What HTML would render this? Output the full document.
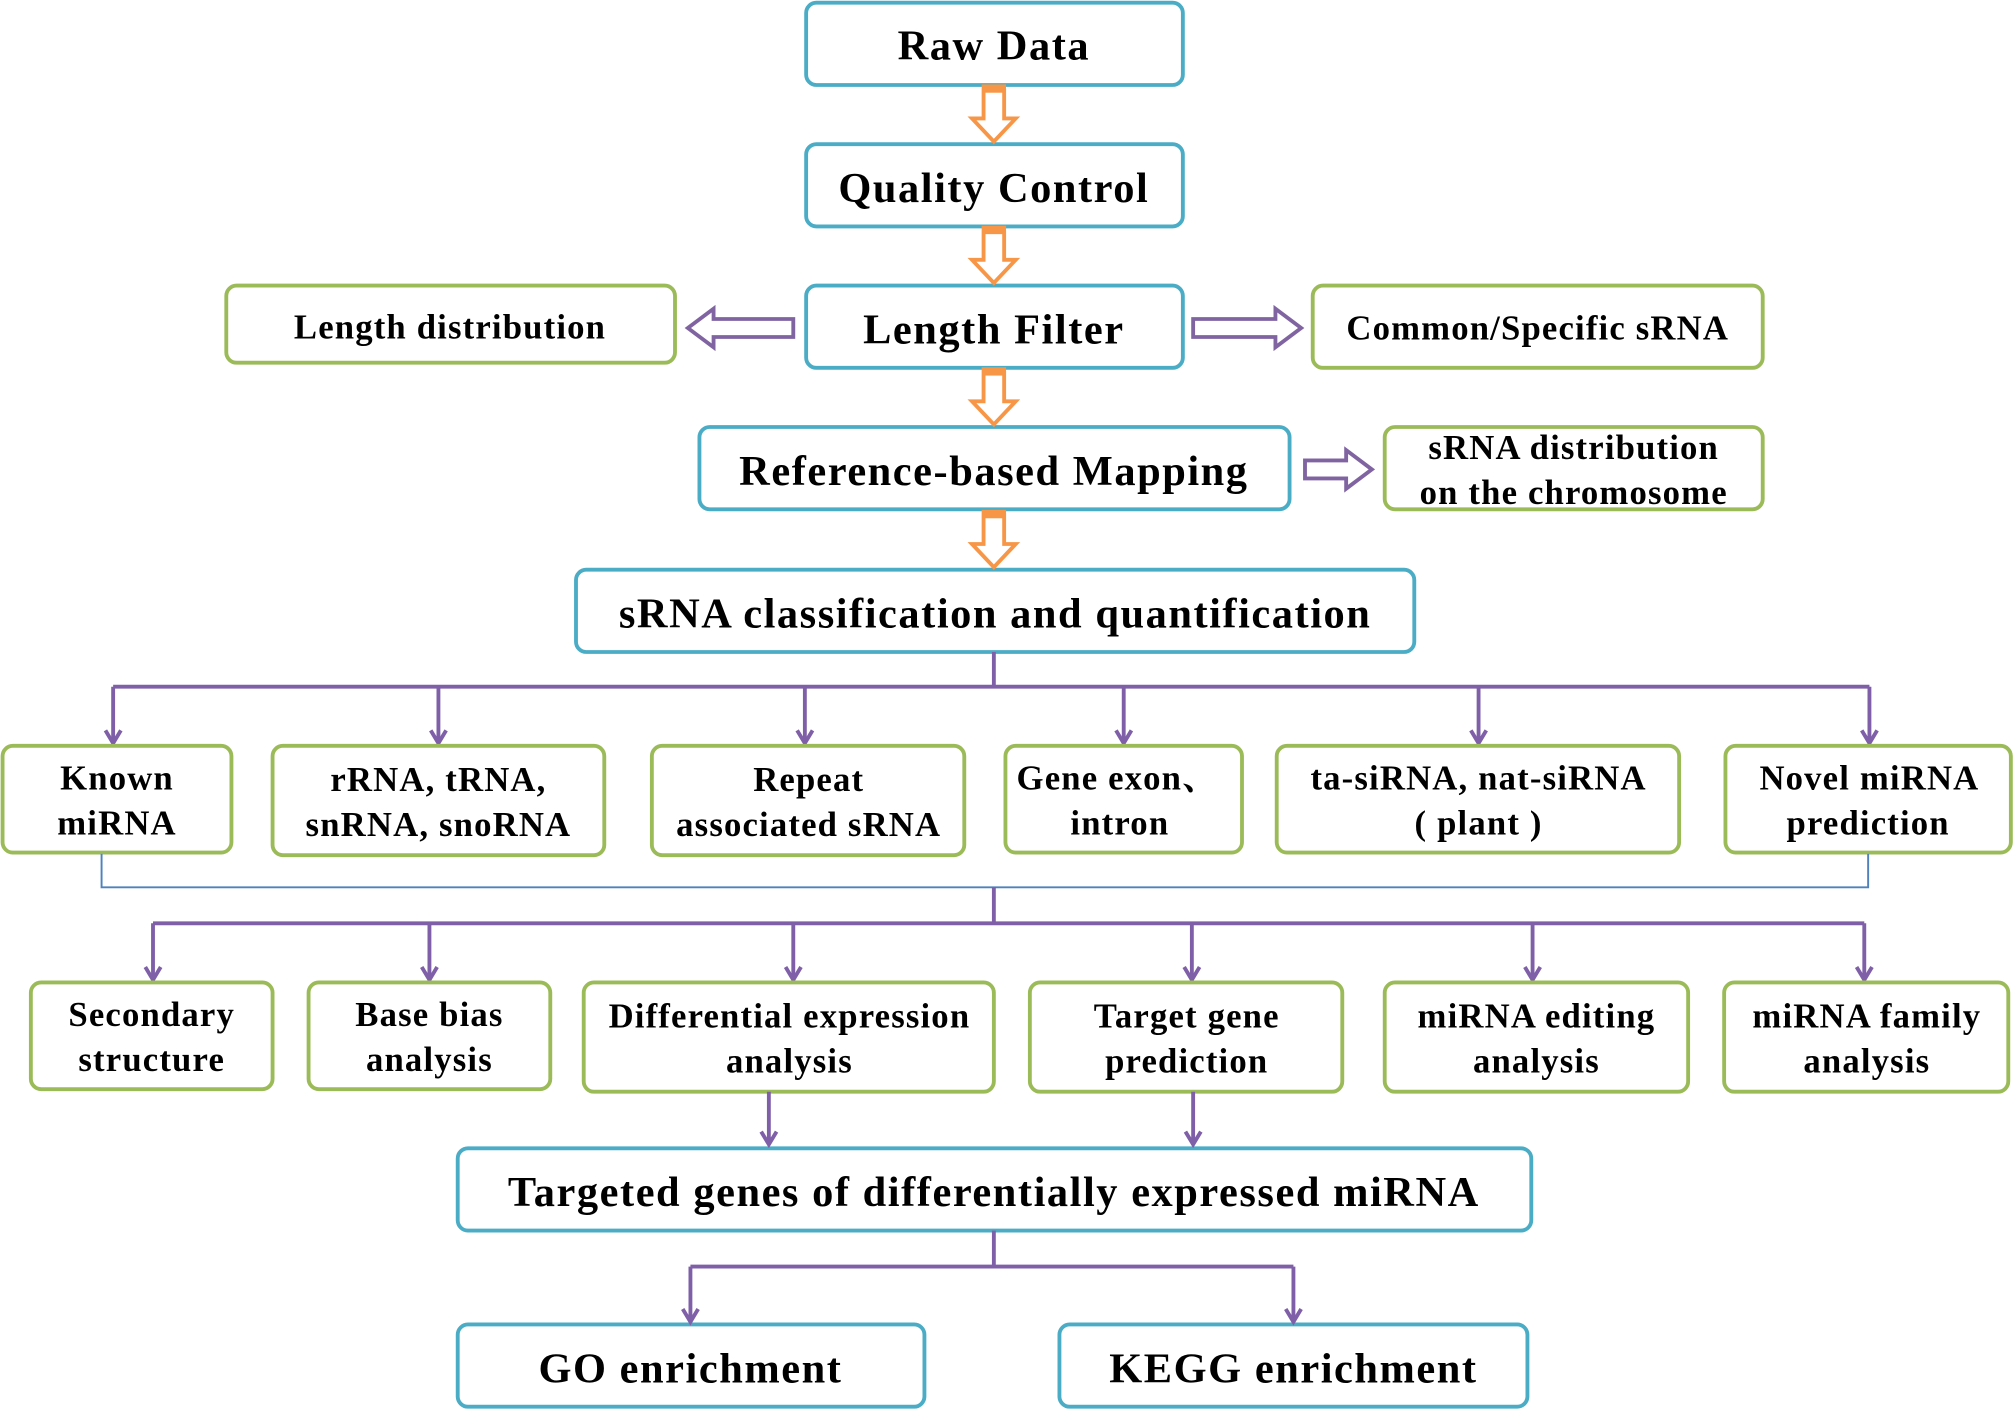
<!DOCTYPE html>
<html><head><meta charset="utf-8"><style>
html,body{margin:0;padding:0;background:#fff;}
svg{display:block;}
text{font-family:"Liberation Serif","Noto Serif CJK SC",serif;font-weight:bold;fill:#000;text-anchor:middle;}
.b{fill:#fff;stroke:#4bacc6;stroke-width:3;}
.g{fill:#fff;stroke:#9bbb59;stroke-width:3;}
.p{stroke:#7f5fa8;stroke-width:3;fill:none;}
.oa{fill:#fff;stroke:#f79646;stroke-width:3;}
.pa{fill:#fff;stroke:#8064a2;stroke-width:3;}
.L{font-size:33px;letter-spacing:1.2px;}
.S{font-size:27px;letter-spacing:0.9px;}
</style></head><body>
<svg width="2016" height="1421" viewBox="0 0 1568 1105" xmlns="http://www.w3.org/2000/svg">
<!-- blue boxes -->
<rect class="b" x="627" y="2" width="293" height="64" rx="8"/>
<text class="L" x="773" y="46">Raw Data</text>
<rect class="b" x="627" y="112" width="293" height="64" rx="8"/>
<text class="L" x="773" y="157">Quality  Control</text>
<rect class="b" x="627" y="222" width="293" height="64" rx="8"/>
<text class="L" x="773" y="267">Length  Filter</text>
<rect class="b" x="544" y="332" width="459" height="64" rx="8"/>
<text class="L" x="773" y="377">Reference-based  Mapping</text>
<rect class="b" x="448" y="443" width="652" height="64" rx="8"/>
<text class="L" x="774" y="488">sRNA classification  and  quantification</text>
<rect class="b" x="356" y="893" width="835" height="64" rx="8"/>
<text class="L" x="773" y="938">Targeted genes  of differentially  expressed miRNA</text>
<rect class="b" x="356" y="1030" width="363" height="64" rx="8"/>
<text class="L" x="537" y="1075">GO enrichment</text>
<rect class="b" x="824" y="1030" width="364" height="64" rx="8"/>
<text class="L" x="1006" y="1075">KEGG enrichment</text>
<!-- green side boxes -->
<rect class="g" x="176" y="222" width="349" height="60" rx="8"/>
<text class="S" x="350" y="263">Length distribution</text>
<rect class="g" x="1021" y="222" width="350" height="64" rx="8"/>
<text class="S" x="1196" y="264">Common/Specific sRNA</text>
<rect class="g" x="1077" y="332" width="294" height="64" rx="8"/>
<text class="S" x="1224" y="357">sRNA distribution</text>
<text class="S" x="1224" y="392">on the chromosome</text>
<!-- orange arrows -->
<g>
<path class="oa" d="M765,67 H781 V92 H790 L773,110 L756,92 H765 Z"/><rect x="764" y="66" width="18" height="6" fill="#f79646"/>
<path class="oa" d="M765,177 H781 V202 H790 L773,220 L756,202 H765 Z"/><rect x="764" y="176" width="18" height="6" fill="#f79646"/>
<path class="oa" d="M765,287 H781 V312 H790 L773,330 L756,312 H765 Z"/><rect x="764" y="286" width="18" height="6" fill="#f79646"/>
<path class="oa" d="M765,398 H781 V423 H790 L773,441 L756,423 H765 Z"/><rect x="764" y="397" width="18" height="6" fill="#f79646"/>
</g>
<!-- purple hollow arrows -->
<path class="pa" d="M617,248 H555 V240 L535,255 L555,270 V262 H617 Z"/>
<path class="pa" d="M928,248 H992 V240 L1012,255 L992,270 V262 H928 Z"/>
<path class="pa" d="M1015,358 H1047 V350 L1067,365 L1047,380 V372 H1015 Z"/>
<!-- row1 connectors -->
<path class="p" d="M773,507 V534 M88,534 H1454"/>
<g class="p">
<path d="M88,534 V576 M341,534 V576 M626,534 V576 M874,534 V576 M1150,534 V576 M1454,534 V576"/>
<path d="M82,568 L88,578 L94,568 M335,568 L341,578 L347,568 M620,568 L626,578 L632,568 M868,568 L874,578 L880,568 M1144,568 L1150,578 L1156,568 M1448,568 L1454,578 L1460,568"/>
</g>
<!-- row1 boxes -->
<rect class="g" x="2" y="580" width="178" height="83" rx="8"/>
<text class="S" x="91" y="614">Known</text><text class="S" x="91" y="649">miRNA</text>
<rect class="g" x="212" y="580" width="258" height="85" rx="8"/>
<text class="S" x="341" y="615">rRNA, tRNA,</text><text class="S" x="341" y="650">snRNA, snoRNA</text>
<rect class="g" x="507" y="580" width="243" height="85" rx="8"/>
<text class="S" x="629" y="615">Repeat</text><text class="S" x="629" y="650">associated sRNA</text>
<rect class="g" x="782" y="580" width="184" height="83" rx="8"/>
<text class="S" x="869" y="614">Gene exon、</text><text class="S" x="871" y="649">intron</text>
<rect class="g" x="993" y="580" width="313" height="83" rx="8"/>
<text class="S" x="1150" y="614">ta-siRNA, nat-siRNA</text><text class="S" x="1150" y="649">( plant )</text>
<rect class="g" x="1342" y="580" width="222" height="83" rx="8"/>
<text class="S" x="1454" y="614">Novel miRNA</text><text class="S" x="1453" y="649">prediction</text>
<!-- blue thin bracket -->
<path d="M79,664 V690 H1453 V664" stroke="#4f81bd" stroke-width="1.5" fill="none"/>
<!-- row2 connectors -->
<path class="p" d="M773,690 V718 M119,718 H1450"/>
<g class="p">
<path d="M119,718 V760 M334,718 V760 M617,718 V760 M927,718 V760 M1192,718 V760 M1450,718 V760"/>
<path d="M113,752 L119,762 L125,752 M328,752 L334,762 L340,752 M611,752 L617,762 L623,752 M921,752 L927,762 L933,752 M1186,752 L1192,762 L1198,752 M1444,752 L1450,762 L1456,752"/>
</g>
<!-- row2 boxes -->
<rect class="g" x="24" y="764" width="188" height="83" rx="8"/>
<text class="S" x="118" y="798">Secondary</text><text class="S" x="118" y="833">structure</text>
<rect class="g" x="240" y="764" width="188" height="83" rx="8"/>
<text class="S" x="334" y="798">Base bias</text><text class="S" x="334" y="833">analysis</text>
<rect class="g" x="454" y="764" width="319" height="85" rx="8"/>
<text class="S" x="614" y="799">Differential expression</text><text class="S" x="614" y="834">analysis</text>
<rect class="g" x="801" y="764" width="243" height="85" rx="8"/>
<text class="S" x="923" y="799">Target gene</text><text class="S" x="923" y="834">prediction</text>
<rect class="g" x="1077" y="764" width="236" height="85" rx="8"/>
<text class="S" x="1195" y="799">miRNA editing</text><text class="S" x="1195" y="834">analysis</text>
<rect class="g" x="1341" y="764" width="221" height="85" rx="8"/>
<text class="S" x="1452" y="799">miRNA family</text><text class="S" x="1452" y="834">analysis</text>
<!-- to targeted -->
<g class="p">
<path d="M598,849 V888 M592,880 L598,890 L604,880"/>
<path d="M928,849 V888 M922,880 L928,890 L934,880"/>
</g>
<!-- bottom -->
<g class="p">
<path d="M773,957 V985 M537,985 H1006 M537,985 V1026 M1006,985 V1026"/>
<path d="M531,1018 L537,1028 L543,1018 M1000,1018 L1006,1028 L1012,1018"/>
</g>
</svg>
</body></html>
